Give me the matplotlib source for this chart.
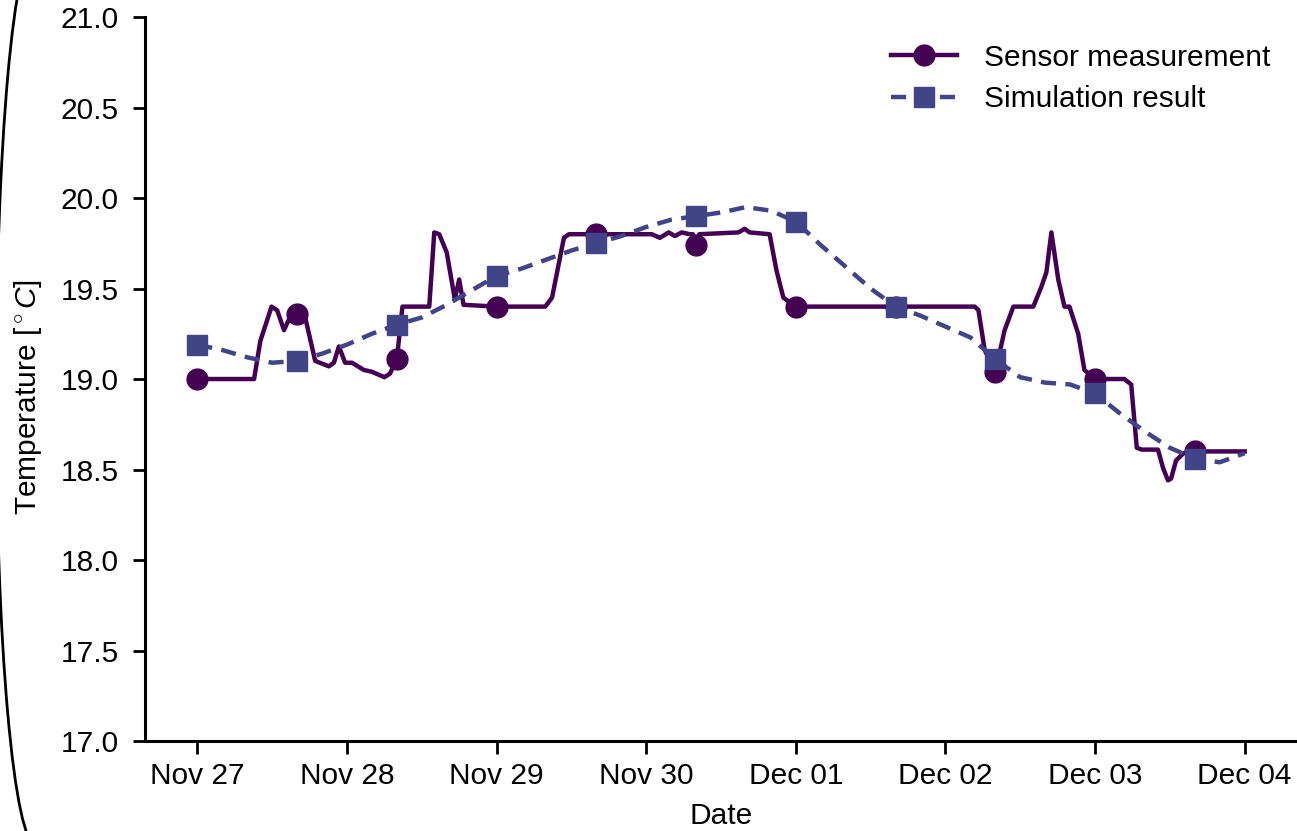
import matplotlib
matplotlib.use("Agg")
import matplotlib.pyplot as plt
import matplotlib.dates as mdates
from matplotlib.patches import Arc
import pandas as pd

plt.rcParams['font.family'] = ['Liberation Sans', 'DejaVu Sans']
plt.rcParams['mathtext.fontset'] = 'custom'
plt.rcParams['mathtext.rm'] = 'Liberation Sans'
plt.rcParams['mathtext.it'] = 'Liberation Sans:italic'

start = pd.Timestamp('2023-11-27 00:00')

# sensor measurement: hours since start, temperature
sensor_hours = [0, 9.1, 10.1, 11.9, 12.8, 13.9, 14.7, 16, 17.3, 18.9, 21.1, 21.9, 22.7,
                23.7, 24.8, 26.7, 28, 30, 30.9, 32, 32.9, 37.2, 38, 38.8, 40, 41.3, 42,
                42.7, 48, 55.8, 56.9, 58.8, 59.6, 64, 72.9, 74.2, 75.6, 76.6, 77.7, 79,
                79.5, 80, 80.5, 86.8, 87.8, 88.6, 91.8, 92.9, 94, 96, 112, 124.7, 125.3,
                126.3, 128, 129.5, 130.9, 134.1, 135.4, 136.2, 137, 138.1, 139.1, 139.9,
                141.3, 142.3, 144, 148.7, 149.8, 150.7, 151.5, 154.1, 154.9, 155.7,
                156.2, 157, 158.2, 160, 168]
sensor_temp = [19.00, 19.00, 19.21, 19.40, 19.38, 19.27, 19.33, 19.36, 19.34, 19.10, 19.07,
               19.09, 19.18, 19.09, 19.09, 19.05, 19.04, 19.01, 19.03, 19.11, 19.40, 19.40,
               19.81, 19.80, 19.70, 19.44, 19.55, 19.41, 19.40, 19.40, 19.45, 19.78, 19.80,
               19.80, 19.80, 19.78, 19.81, 19.79, 19.81, 19.80, 19.80, 19.74, 19.80, 19.81,
               19.83, 19.81, 19.80, 19.60, 19.45, 19.40, 19.40, 19.40, 19.38, 19.16, 19.04,
               19.27, 19.40, 19.40, 19.51, 19.59, 19.81, 19.55, 19.40, 19.40, 19.25, 19.05,
               19.00, 19.00, 18.97, 18.62, 18.61, 18.61, 18.51, 18.44, 18.45, 18.55, 18.59,
               18.60, 18.60]

# simulation result, every 4 hours
sim_hours = list(range(0, 169, 4))
sim_temp = [19.19, 19.16, 19.12, 19.09, 19.10, 19.14, 19.19, 19.25, 19.30, 19.34, 19.41,
            19.49, 19.57, 19.61, 19.66, 19.71, 19.75, 19.79, 19.84, 19.88, 19.90, 19.92,
            19.95, 19.93, 19.87, 19.74, 19.62, 19.50, 19.40, 19.35, 19.29, 19.23, 19.11,
            19.01, 18.98, 18.97, 18.92, 18.81, 18.71, 18.62, 18.56, 18.54, 18.59]

marker_hours = list(range(0, 168, 16))

sensor_t = [start + pd.Timedelta(hours=h) for h in sensor_hours]
sim_t = [start + pd.Timedelta(hours=h) for h in sim_hours]
sensor_marks = [sensor_hours.index(h) for h in marker_hours]
sim_marks = [sim_hours.index(h) for h in marker_hours]

fig = plt.figure(figsize=(12.97, 8.31), dpi=100)
ax = fig.add_axes([0.1118, 0.1083, 0.8882, 0.8712])

ax.plot(sensor_t, sensor_temp, color='#440154', lw=3.2, marker='o', ms=15,
        markevery=sensor_marks, label='Sensor measurement')
ax.plot(sim_t, sim_temp, color='#414487', lw=3.2, ls='--', dashes=(3.4, 2.1),
        marker='s', ms=14.5, markevery=sim_marks, label='Simulation result')

ax.set_ylim(17.0, 21.0)
ax.set_yticks([17.0, 17.5, 18.0, 18.5, 19.0, 19.5, 20.0, 20.5, 21.0])
ax.set_xlim(start - pd.Timedelta(hours=8.4), start + pd.Timedelta(hours=176.4))
ax.xaxis.set_major_locator(mdates.DayLocator())
ax.xaxis.set_major_formatter(mdates.DateFormatter('%b %d'))

for s in ['top', 'right']:
    ax.spines[s].set_visible(False)
for s in ['left', 'bottom']:
    ax.spines[s].set_linewidth(2.2)
ax.tick_params(axis='both', labelsize=21.5, length=9, width=2.0)
ax.tick_params(axis='y', pad=10)
ax.tick_params(axis='x', pad=6)

ax.set_xlabel('Date', fontsize=21.5, labelpad=9)
ax.set_ylabel('Temperature [$^\\circ C$]', fontsize=21.5)
ax.yaxis.set_label_coords(-0.088, 0.475)

ax.legend(loc='upper right', frameon=False, fontsize=21.5, handlelength=2.2,
          handletextpad=0.9, bbox_to_anchor=(1.0, 1.0), labelspacing=0.45)

# rounded frame edge at the left of the screenshot
arc = Arc((36, 436), 80, 900, theta1=90, theta2=270, color='black', lw=2,
          transform=None, clip_on=False)
fig.add_artist(arc)

fig.savefig('out.png', dpi=100)
